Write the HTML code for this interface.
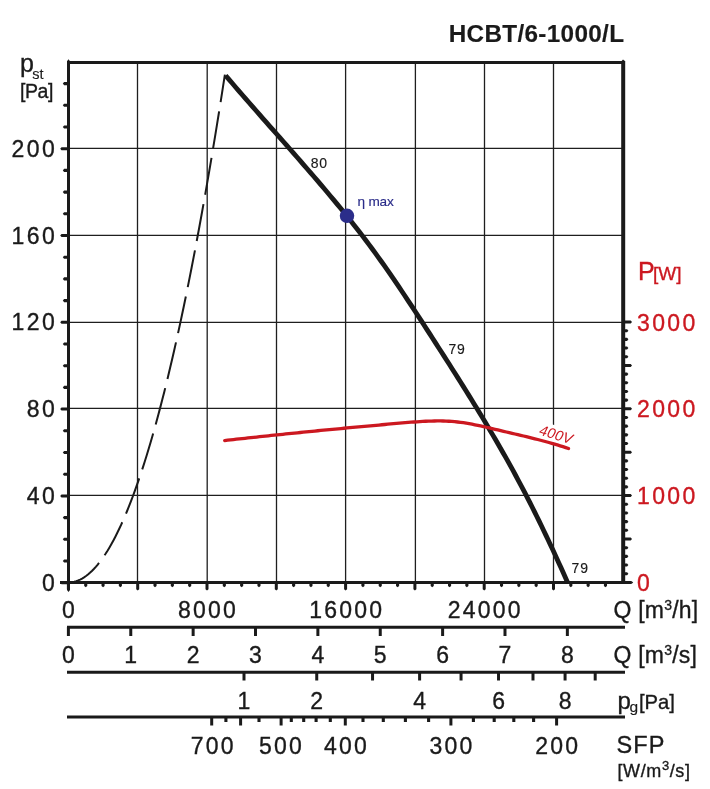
<!DOCTYPE html>
<html><head><meta charset="utf-8"><style>
html,body{margin:0;padding:0;background:#fff;}
body{width:710px;height:789px;overflow:hidden;position:relative;}
svg{position:absolute;left:0;top:0;will-change:transform;}
text{font-family:"Liberation Sans",sans-serif;}
</style></head><body>
<svg width="710" height="789" viewBox="0 0 710 789">
<rect width="710" height="789" fill="#fff"/>
<line x1="137.5" y1="62" x2="137.5" y2="582" stroke="#1e1e1e" stroke-width="1.3"/>
<line x1="207.2" y1="62" x2="207.2" y2="582" stroke="#1e1e1e" stroke-width="1.3"/>
<line x1="276.5" y1="62" x2="276.5" y2="582" stroke="#1e1e1e" stroke-width="1.3"/>
<line x1="345.6" y1="62" x2="345.6" y2="582" stroke="#1e1e1e" stroke-width="1.3"/>
<line x1="415.4" y1="62" x2="415.4" y2="582" stroke="#1e1e1e" stroke-width="1.3"/>
<line x1="484.5" y1="62" x2="484.5" y2="582" stroke="#1e1e1e" stroke-width="1.3"/>
<line x1="553.5" y1="62" x2="553.5" y2="582" stroke="#1e1e1e" stroke-width="1.3"/>
<line x1="68" y1="495.4" x2="623" y2="495.4" stroke="#1e1e1e" stroke-width="1.3"/>
<line x1="68" y1="408.4" x2="623" y2="408.4" stroke="#1e1e1e" stroke-width="1.3"/>
<line x1="68" y1="322.4" x2="623" y2="322.4" stroke="#1e1e1e" stroke-width="1.3"/>
<line x1="68" y1="235.3" x2="623" y2="235.3" stroke="#1e1e1e" stroke-width="1.3"/>
<line x1="68" y1="148.4" x2="623" y2="148.4" stroke="#1e1e1e" stroke-width="1.3"/>
<polygon points="69.00,581.20 61.50,581.20 60.20,582.70 61.50,584.20 69.00,584.20" fill="#1a1a1a"/>
<polygon points="69.00,559.45 64.10,559.45 62.80,561.00 64.10,562.55 69.00,562.55" fill="#1a1a1a"/>
<polygon points="69.00,537.75 64.10,537.75 62.80,539.30 64.10,540.85 69.00,540.85" fill="#1a1a1a"/>
<polygon points="69.00,516.05 64.10,516.05 62.80,517.60 64.10,519.15 69.00,519.15" fill="#1a1a1a"/>
<polygon points="69.00,494.40 61.50,494.40 60.20,495.90 61.50,497.40 69.00,497.40" fill="#1a1a1a"/>
<polygon points="69.00,472.65 64.10,472.65 62.80,474.20 64.10,475.75 69.00,475.75" fill="#1a1a1a"/>
<polygon points="69.00,450.95 64.10,450.95 62.80,452.50 64.10,454.05 69.00,454.05" fill="#1a1a1a"/>
<polygon points="69.00,429.25 64.10,429.25 62.80,430.80 64.10,432.35 69.00,432.35" fill="#1a1a1a"/>
<polygon points="69.00,407.60 61.50,407.60 60.20,409.10 61.50,410.60 69.00,410.60" fill="#1a1a1a"/>
<polygon points="69.00,385.85 64.10,385.85 62.80,387.40 64.10,388.95 69.00,388.95" fill="#1a1a1a"/>
<polygon points="69.00,364.15 64.10,364.15 62.80,365.70 64.10,367.25 69.00,367.25" fill="#1a1a1a"/>
<polygon points="69.00,342.45 64.10,342.45 62.80,344.00 64.10,345.55 69.00,345.55" fill="#1a1a1a"/>
<polygon points="69.00,320.80 61.50,320.80 60.20,322.30 61.50,323.80 69.00,323.80" fill="#1a1a1a"/>
<polygon points="69.00,299.05 64.10,299.05 62.80,300.60 64.10,302.15 69.00,302.15" fill="#1a1a1a"/>
<polygon points="69.00,277.35 64.10,277.35 62.80,278.90 64.10,280.45 69.00,280.45" fill="#1a1a1a"/>
<polygon points="69.00,255.65 64.10,255.65 62.80,257.20 64.10,258.75 69.00,258.75" fill="#1a1a1a"/>
<polygon points="69.00,234.00 61.50,234.00 60.20,235.50 61.50,237.00 69.00,237.00" fill="#1a1a1a"/>
<polygon points="69.00,212.25 64.10,212.25 62.80,213.80 64.10,215.35 69.00,215.35" fill="#1a1a1a"/>
<polygon points="69.00,190.55 64.10,190.55 62.80,192.10 64.10,193.65 69.00,193.65" fill="#1a1a1a"/>
<polygon points="69.00,168.85 64.10,168.85 62.80,170.40 64.10,171.95 69.00,171.95" fill="#1a1a1a"/>
<polygon points="69.00,147.20 61.50,147.20 60.20,148.70 61.50,150.20 69.00,150.20" fill="#1a1a1a"/>
<polygon points="69.00,125.45 64.10,125.45 62.80,127.00 64.10,128.55 69.00,128.55" fill="#1a1a1a"/>
<polygon points="69.00,103.75 64.10,103.75 62.80,105.30 64.10,106.85 69.00,106.85" fill="#1a1a1a"/>
<polygon points="69.00,82.05 64.10,82.05 62.80,83.60 64.10,85.15 69.00,85.15" fill="#1a1a1a"/>
<polygon points="624.00,580.90 630.70,580.90 632.00,582.40 630.70,583.90 624.00,583.90" fill="#1a1a1a"/>
<polygon points="624.00,572.17 627.10,572.17 628.40,573.72 627.10,575.27 624.00,575.27" fill="#1a1a1a"/>
<polygon points="624.00,563.49 627.10,563.49 628.40,565.04 627.10,566.59 624.00,566.59" fill="#1a1a1a"/>
<polygon points="624.00,554.81 627.10,554.81 628.40,556.36 627.10,557.91 624.00,557.91" fill="#1a1a1a"/>
<polygon points="624.00,546.13 627.10,546.13 628.40,547.68 627.10,549.23 624.00,549.23" fill="#1a1a1a"/>
<polygon points="624.00,537.50 630.70,537.50 632.00,539.00 630.70,540.50 624.00,540.50" fill="#1a1a1a"/>
<polygon points="624.00,528.77 627.10,528.77 628.40,530.32 627.10,531.87 624.00,531.87" fill="#1a1a1a"/>
<polygon points="624.00,520.09 627.10,520.09 628.40,521.64 627.10,523.19 624.00,523.19" fill="#1a1a1a"/>
<polygon points="624.00,511.41 627.10,511.41 628.40,512.96 627.10,514.51 624.00,514.51" fill="#1a1a1a"/>
<polygon points="624.00,502.73 627.10,502.73 628.40,504.28 627.10,505.83 624.00,505.83" fill="#1a1a1a"/>
<polygon points="624.00,494.10 630.70,494.10 632.00,495.60 630.70,497.10 624.00,497.10" fill="#1a1a1a"/>
<polygon points="624.00,485.37 627.10,485.37 628.40,486.92 627.10,488.47 624.00,488.47" fill="#1a1a1a"/>
<polygon points="624.00,476.69 627.10,476.69 628.40,478.24 627.10,479.79 624.00,479.79" fill="#1a1a1a"/>
<polygon points="624.00,468.01 627.10,468.01 628.40,469.56 627.10,471.11 624.00,471.11" fill="#1a1a1a"/>
<polygon points="624.00,459.33 627.10,459.33 628.40,460.88 627.10,462.43 624.00,462.43" fill="#1a1a1a"/>
<polygon points="624.00,450.70 630.70,450.70 632.00,452.20 630.70,453.70 624.00,453.70" fill="#1a1a1a"/>
<polygon points="624.00,441.97 627.10,441.97 628.40,443.52 627.10,445.07 624.00,445.07" fill="#1a1a1a"/>
<polygon points="624.00,433.29 627.10,433.29 628.40,434.84 627.10,436.39 624.00,436.39" fill="#1a1a1a"/>
<polygon points="624.00,424.61 627.10,424.61 628.40,426.16 627.10,427.71 624.00,427.71" fill="#1a1a1a"/>
<polygon points="624.00,415.93 627.10,415.93 628.40,417.48 627.10,419.03 624.00,419.03" fill="#1a1a1a"/>
<polygon points="624.00,407.30 630.70,407.30 632.00,408.80 630.70,410.30 624.00,410.30" fill="#1a1a1a"/>
<polygon points="624.00,398.57 627.10,398.57 628.40,400.12 627.10,401.67 624.00,401.67" fill="#1a1a1a"/>
<polygon points="624.00,389.89 627.10,389.89 628.40,391.44 627.10,392.99 624.00,392.99" fill="#1a1a1a"/>
<polygon points="624.00,381.21 627.10,381.21 628.40,382.76 627.10,384.31 624.00,384.31" fill="#1a1a1a"/>
<polygon points="624.00,372.53 627.10,372.53 628.40,374.08 627.10,375.63 624.00,375.63" fill="#1a1a1a"/>
<polygon points="624.00,363.90 630.70,363.90 632.00,365.40 630.70,366.90 624.00,366.90" fill="#1a1a1a"/>
<polygon points="624.00,355.17 627.10,355.17 628.40,356.72 627.10,358.27 624.00,358.27" fill="#1a1a1a"/>
<polygon points="624.00,346.49 627.10,346.49 628.40,348.04 627.10,349.59 624.00,349.59" fill="#1a1a1a"/>
<polygon points="624.00,337.81 627.10,337.81 628.40,339.36 627.10,340.91 624.00,340.91" fill="#1a1a1a"/>
<polygon points="624.00,329.13 627.10,329.13 628.40,330.68 627.10,332.23 624.00,332.23" fill="#1a1a1a"/>
<polygon points="624.00,320.50 630.70,320.50 632.00,322.00 630.70,323.50 624.00,323.50" fill="#1a1a1a"/>
<polygon points="66.90,582.00 66.90,589.20 68.40,590.50 69.90,589.20 69.90,582.00" fill="#1a1a1a"/>
<polygon points="84.18,582.00 84.18,585.90 85.73,587.20 87.28,585.90 87.28,582.00" fill="#1a1a1a"/>
<polygon points="101.50,582.00 101.50,585.90 103.05,587.20 104.60,585.90 104.60,582.00" fill="#1a1a1a"/>
<polygon points="118.83,582.00 118.83,585.90 120.38,587.20 121.92,585.90 121.92,582.00" fill="#1a1a1a"/>
<polygon points="136.20,582.00 136.20,589.20 137.70,590.50 139.20,589.20 139.20,582.00" fill="#1a1a1a"/>
<polygon points="153.47,582.00 153.47,585.90 155.03,587.20 156.58,585.90 156.58,582.00" fill="#1a1a1a"/>
<polygon points="170.80,582.00 170.80,585.90 172.35,587.20 173.90,585.90 173.90,582.00" fill="#1a1a1a"/>
<polygon points="188.12,582.00 188.12,585.90 189.68,587.20 191.23,585.90 191.23,582.00" fill="#1a1a1a"/>
<polygon points="205.50,582.00 205.50,589.20 207.00,590.50 208.50,589.20 208.50,582.00" fill="#1a1a1a"/>
<polygon points="222.77,582.00 222.77,585.90 224.32,587.20 225.88,585.90 225.88,582.00" fill="#1a1a1a"/>
<polygon points="240.10,582.00 240.10,585.90 241.65,587.20 243.20,585.90 243.20,582.00" fill="#1a1a1a"/>
<polygon points="257.43,582.00 257.43,585.90 258.98,587.20 260.53,585.90 260.53,582.00" fill="#1a1a1a"/>
<polygon points="274.80,582.00 274.80,589.20 276.30,590.50 277.80,589.20 277.80,582.00" fill="#1a1a1a"/>
<polygon points="292.07,582.00 292.07,585.90 293.62,587.20 295.18,585.90 295.18,582.00" fill="#1a1a1a"/>
<polygon points="309.40,582.00 309.40,585.90 310.95,587.20 312.50,585.90 312.50,582.00" fill="#1a1a1a"/>
<polygon points="326.72,582.00 326.72,585.90 328.27,587.20 329.82,585.90 329.82,582.00" fill="#1a1a1a"/>
<polygon points="344.10,582.00 344.10,589.20 345.60,590.50 347.10,589.20 347.10,582.00" fill="#1a1a1a"/>
<polygon points="361.37,582.00 361.37,585.90 362.92,587.20 364.47,585.90 364.47,582.00" fill="#1a1a1a"/>
<polygon points="378.70,582.00 378.70,585.90 380.25,587.20 381.80,585.90 381.80,582.00" fill="#1a1a1a"/>
<polygon points="396.03,582.00 396.03,585.90 397.58,587.20 399.13,585.90 399.13,582.00" fill="#1a1a1a"/>
<polygon points="413.40,582.00 413.40,589.20 414.90,590.50 416.40,589.20 416.40,582.00" fill="#1a1a1a"/>
<polygon points="430.68,582.00 430.68,585.90 432.23,587.20 433.78,585.90 433.78,582.00" fill="#1a1a1a"/>
<polygon points="448.00,582.00 448.00,585.90 449.55,587.20 451.10,585.90 451.10,582.00" fill="#1a1a1a"/>
<polygon points="465.32,582.00 465.32,585.90 466.88,587.20 468.43,585.90 468.43,582.00" fill="#1a1a1a"/>
<polygon points="482.70,582.00 482.70,589.20 484.20,590.50 485.70,589.20 485.70,582.00" fill="#1a1a1a"/>
<polygon points="499.97,582.00 499.97,585.90 501.52,587.20 503.07,585.90 503.07,582.00" fill="#1a1a1a"/>
<polygon points="517.30,582.00 517.30,585.90 518.85,587.20 520.40,585.90 520.40,582.00" fill="#1a1a1a"/>
<polygon points="534.62,582.00 534.62,585.90 536.17,587.20 537.72,585.90 537.72,582.00" fill="#1a1a1a"/>
<polygon points="552.00,582.00 552.00,589.20 553.50,590.50 555.00,589.20 555.00,582.00" fill="#1a1a1a"/>
<polygon points="569.27,582.00 569.27,585.90 570.82,587.20 572.37,585.90 572.37,582.00" fill="#1a1a1a"/>
<polygon points="586.60,582.00 586.60,585.90 588.15,587.20 589.70,585.90 589.70,582.00" fill="#1a1a1a"/>
<polygon points="603.92,582.00 603.92,585.90 605.47,587.20 607.02,585.90 607.02,582.00" fill="#1a1a1a"/>
<line x1="67" y1="62.5" x2="625" y2="62.5" stroke="#1a1a1a" stroke-width="3"/>
<line x1="68.5" y1="61" x2="68.5" y2="590" stroke="#1a1a1a" stroke-width="3"/>
<line x1="623.2" y1="61" x2="623.2" y2="584" stroke="#1a1a1a" stroke-width="4"/>
<line x1="60" y1="582.4" x2="631.5" y2="582.4" stroke="#1a1a1a" stroke-width="3"/>
<polygon points="631.4,580.9 633.2,582.4 631.4,583.9" fill="#1a1a1a"/>
<polygon points="67,590 68.5,592 70,590" fill="#1a1a1a"/>
<polygon points="67,61.2 68.5,59.2 70,61.2" fill="#1a1a1a"/>
<polygon points="621.4,61.2 623,59.6 625.2,61.2" fill="#1a1a1a"/>
<g transform="translate(537.8,434.3) rotate(16.5)"><rect x="-1" y="-13.5" width="38" height="17" fill="#fff"/></g>
<path d="M68.40,582.40 L70.36,582.32 L72.31,582.08 L74.27,581.69 L76.23,581.13 L78.18,580.42 L80.14,579.54 L82.09,578.51 L84.05,577.32 L86.01,575.97 L87.96,574.47 L89.92,572.80 L91.88,570.97 L93.83,568.99 L95.79,566.85 L97.74,564.55 L99.70,562.09 L101.66,559.47 L103.61,556.69 L105.57,553.76 L107.53,550.66 L109.48,547.41 L111.44,544.00 L113.39,540.43 L115.35,536.70 L117.31,532.81 L119.26,528.76 L121.22,524.56 L123.18,520.19 L125.13,515.67 L127.09,510.99 L129.04,506.15 L131.00,501.15 L132.96,495.99 L134.91,490.68 L136.87,485.20 L138.82,479.57 L140.78,473.78 L142.74,467.83 L144.69,461.72 L146.65,455.45 L148.61,449.02 L150.56,442.44 L152.52,435.69 L154.48,428.79 L156.43,421.73 L158.39,414.51 L160.34,407.13 L162.30,399.59 L164.26,391.90 L166.21,384.04 L168.17,376.03 L170.12,367.85 L172.08,359.52 L174.04,351.03 L175.99,342.39 L177.95,333.58 L179.91,324.61 L181.86,315.49 L183.82,306.20 L185.78,296.76 L187.73,287.16 L189.69,277.40 L191.64,267.48 L193.60,257.41 L195.56,247.17 L197.51,236.78 L199.47,226.23 L201.43,215.51 L203.38,204.64 L205.34,193.62 L207.29,182.43 L209.25,171.08 L211.21,159.58 L213.16,147.91 L215.12,136.09 L217.07,124.11 L219.03,111.97 L220.99,99.67 L222.94,87.22 L224.90,74.60" fill="none" stroke="#1a1a1a" stroke-width="2" stroke-dasharray="37.5 9.5"/>
<path d="M225.59,75.43 L228.93,79.36 L232.28,83.27 L235.64,87.19 L239.01,91.09 L242.38,94.99 L245.77,98.88 L249.16,102.77 L252.55,106.66 L255.96,110.54 L259.36,114.42 L262.77,118.29 L266.18,122.17 L269.60,126.04 L273.01,129.91 L276.43,133.78 L279.85,137.66 L283.26,141.53 L286.68,145.40 L290.09,149.28 L293.50,153.16 L296.91,157.04 L300.31,160.92 L303.71,164.81 L307.10,168.71 L310.48,172.61 L313.85,176.52 L317.22,180.43 L320.57,184.35 L323.91,188.29 L327.25,192.23 L330.56,196.18 L333.87,200.14 L337.16,204.11 L340.43,208.09 L343.69,212.09 L346.93,216.10 L350.15,220.12 L353.36,224.16 L356.54,228.21 L359.70,232.28 L362.84,236.37 L365.96,240.47 L369.05,244.59 L372.12,248.73 L375.16,252.89 L378.18,257.06 L381.18,261.26 L384.16,265.46 L387.12,269.68 L390.07,273.92 L392.99,278.16 L395.90,282.42 L398.79,286.70 L401.67,290.98 L404.54,295.27 L407.39,299.57 L410.23,303.87 L413.07,308.19 L415.89,312.51 L418.71,316.83 L421.53,321.16 L424.33,325.50 L427.14,329.83 L429.94,334.17 L432.73,338.51 L435.53,342.85 L438.32,347.19 L441.11,351.53 L443.90,355.88 L446.68,360.23 L449.46,364.58 L452.23,368.93 L454.99,373.29 L457.75,377.65 L460.50,382.02 L463.24,386.39 L465.98,390.76 L468.70,395.14 L471.42,399.52 L474.12,403.92 L476.82,408.31 L479.50,412.72 L482.17,417.13 L484.83,421.55 L487.48,425.97 L490.11,430.40 L492.73,434.85 L495.33,439.30 L497.92,443.76 L500.49,448.22 L503.05,452.70 L505.59,457.19 L508.11,461.69 L510.61,466.19 L513.10,470.71 L515.56,475.24 L518.01,479.79 L520.43,484.34 L522.84,488.90 L525.22,493.48 L527.59,498.07 L529.93,502.66 L532.26,507.27 L534.57,511.89 L536.86,516.51 L539.14,521.15 L541.40,525.79 L543.64,530.44 L545.87,535.09 L548.08,539.76 L550.28,544.43 L552.46,549.10 L554.63,553.78 L556.79,558.47 L558.93,563.16 L561.06,567.86 L563.18,572.56 L565.28,577.26 L567.38,581.96" fill="none" stroke="#1a1a1a" stroke-width="4.8"/>
<path d="M224.69,440.53 L227.60,440.20 L230.51,439.88 L233.42,439.55 L236.33,439.23 L239.23,438.91 L242.14,438.59 L245.05,438.28 L247.96,437.96 L250.87,437.65 L253.77,437.33 L256.68,437.02 L259.59,436.71 L262.50,436.40 L265.41,436.09 L268.32,435.79 L271.22,435.48 L274.13,435.18 L277.04,434.87 L279.95,434.57 L282.86,434.27 L285.77,433.97 L288.68,433.67 L291.59,433.38 L294.50,433.08 L297.41,432.79 L300.32,432.50 L303.23,432.20 L306.14,431.91 L309.05,431.62 L311.96,431.34 L314.87,431.05 L317.78,430.76 L320.69,430.48 L323.60,430.19 L326.52,429.91 L329.43,429.63 L332.34,429.35 L335.25,429.07 L338.16,428.79 L341.08,428.52 L343.99,428.24 L346.90,427.97 L349.82,427.69 L352.73,427.42 L355.64,427.15 L358.56,426.88 L361.47,426.61 L364.39,426.34 L367.30,426.07 L370.22,425.81 L373.13,425.54 L376.05,425.28 L378.96,425.02 L381.88,424.75 L384.80,424.49 L387.72,424.23 L390.63,423.97 L393.55,423.72 L396.47,423.46 L399.39,423.20 L402.31,422.95 L405.22,422.69 L408.14,422.45 L411.06,422.21 L413.98,421.99 L416.90,421.78 L419.82,421.58 L422.73,421.41 L425.65,421.26 L428.56,421.14 L431.48,421.05 L434.39,420.99 L437.30,420.96 L440.20,420.97 L443.11,421.02 L446.01,421.12 L448.92,421.26 L451.81,421.45 L454.71,421.69 L457.60,421.99 L460.49,422.34 L463.38,422.74 L466.26,423.19 L469.14,423.67 L472.02,424.20 L474.90,424.76 L477.77,425.35 L480.64,425.96 L483.51,426.60 L486.38,427.25 L489.25,427.92 L492.11,428.60 L494.97,429.28 L497.84,429.96 L500.70,430.64 L503.55,431.32 L506.41,431.99 L509.27,432.66 L512.12,433.33 L514.97,434.00 L517.82,434.66 L520.66,435.34 L523.51,436.01 L526.35,436.69 L529.19,437.38 L532.02,438.08 L534.85,438.79 L537.68,439.50 L540.51,440.23 L543.33,440.98 L546.15,441.73 L548.96,442.51 L551.77,443.30 L554.57,444.11 L557.37,444.95 L560.16,445.80 L562.95,446.68 L565.74,447.58 L568.52,448.51" fill="none" stroke="#cc1820" stroke-width="3.3" stroke-linecap="round" stroke-linejoin="round"/>
<circle cx="347.0" cy="215.8" r="7.25" fill="#2b2d8a"/>
<text x="624.30" y="41.60" font-size="24.3" text-anchor="end" fill="#1a1a1a" stroke="#1a1a1a" stroke-width="0.15" letter-spacing="0.32" font-weight="bold" >HCBT/6-1000/L</text>
<text x="20.00" y="72.00" font-size="25" text-anchor="start" fill="#1a1a1a" stroke="#1a1a1a" stroke-width="0.35" letter-spacing="0" font-weight="normal" >p</text>
<text x="32.30" y="79.40" font-size="14.5" text-anchor="start" fill="#1a1a1a" stroke="#1a1a1a" stroke-width="0.15" letter-spacing="0" font-weight="normal" >st</text>
<text x="20.00" y="97.80" font-size="19.5" text-anchor="start" fill="#1a1a1a" stroke="#1a1a1a" stroke-width="0.35" letter-spacing="-0.4" font-weight="normal" >[Pa]</text>
<text x="57.30" y="590.80" font-size="23" text-anchor="end" fill="#1a1a1a" stroke="#1a1a1a" stroke-width="0.35" letter-spacing="2.5" font-weight="normal" >0</text>
<text x="57.30" y="504.00" font-size="23" text-anchor="end" fill="#1a1a1a" stroke="#1a1a1a" stroke-width="0.35" letter-spacing="2.5" font-weight="normal" >40</text>
<text x="57.30" y="417.20" font-size="23" text-anchor="end" fill="#1a1a1a" stroke="#1a1a1a" stroke-width="0.35" letter-spacing="2.5" font-weight="normal" >80</text>
<text x="57.30" y="330.40" font-size="23" text-anchor="end" fill="#1a1a1a" stroke="#1a1a1a" stroke-width="0.35" letter-spacing="2.5" font-weight="normal" >120</text>
<text x="57.30" y="243.60" font-size="23" text-anchor="end" fill="#1a1a1a" stroke="#1a1a1a" stroke-width="0.35" letter-spacing="2.5" font-weight="normal" >160</text>
<text x="57.30" y="156.80" font-size="23" text-anchor="end" fill="#1a1a1a" stroke="#1a1a1a" stroke-width="0.35" letter-spacing="2.5" font-weight="normal" >200</text>
<text x="637.00" y="590.70" font-size="23" text-anchor="start" fill="#cc1820" stroke="#cc1820" stroke-width="0.35" letter-spacing="2.35" font-weight="normal" >0</text>
<text x="637.00" y="503.90" font-size="23" text-anchor="start" fill="#cc1820" stroke="#cc1820" stroke-width="0.35" letter-spacing="2.35" font-weight="normal" >1000</text>
<text x="637.00" y="417.10" font-size="23" text-anchor="start" fill="#cc1820" stroke="#cc1820" stroke-width="0.35" letter-spacing="2.35" font-weight="normal" >2000</text>
<text x="637.00" y="331.10" font-size="23" text-anchor="start" fill="#cc1820" stroke="#cc1820" stroke-width="0.35" letter-spacing="2.35" font-weight="normal" >3000</text>
<text x="638.00" y="279.60" font-size="25" text-anchor="start" fill="#cc1820" stroke="#cc1820" stroke-width="0.35" letter-spacing="0" font-weight="normal" >P</text>
<text x="653.00" y="279.60" font-size="19" text-anchor="start" fill="#cc1820" stroke="#cc1820" stroke-width="0.35" letter-spacing="0" font-weight="normal" >[W]</text>
<text x="69.50" y="617.60" font-size="23" text-anchor="middle" fill="#1a1a1a" stroke="#1a1a1a" stroke-width="0.35" letter-spacing="2.2" font-weight="normal" >0</text>
<text x="208.10" y="617.60" font-size="23" text-anchor="middle" fill="#1a1a1a" stroke="#1a1a1a" stroke-width="0.35" letter-spacing="2.2" font-weight="normal" >8000</text>
<text x="346.70" y="617.60" font-size="23" text-anchor="middle" fill="#1a1a1a" stroke="#1a1a1a" stroke-width="0.35" letter-spacing="2.2" font-weight="normal" >16000</text>
<text x="485.30" y="617.60" font-size="23" text-anchor="middle" fill="#1a1a1a" stroke="#1a1a1a" stroke-width="0.35" letter-spacing="2.2" font-weight="normal" >24000</text>
<text x="613.50" y="617.80" font-size="23" text-anchor="start" fill="#1a1a1a" stroke="#1a1a1a" stroke-width="0.35" letter-spacing="0.2" font-weight="normal" >Q [m<tspan font-size="14" dy="-8">3</tspan><tspan dy="8">/h]</tspan></text>
<line x1="67" y1="627.3" x2="625" y2="627.3" stroke="#1a1a1a" stroke-width="3"/>
<line x1="68.40" y1="627" x2="68.40" y2="636" stroke="#1a1a1a" stroke-width="3"/>
<text x="69.50" y="662.60" font-size="23" text-anchor="middle" fill="#1a1a1a" stroke="#1a1a1a" stroke-width="0.35" letter-spacing="2.2" font-weight="normal" >0</text>
<line x1="130.77" y1="627" x2="130.77" y2="636" stroke="#1a1a1a" stroke-width="3"/>
<text x="131.87" y="662.60" font-size="23" text-anchor="middle" fill="#1a1a1a" stroke="#1a1a1a" stroke-width="0.35" letter-spacing="2.2" font-weight="normal" >1</text>
<line x1="193.14" y1="627" x2="193.14" y2="636" stroke="#1a1a1a" stroke-width="3"/>
<text x="194.24" y="662.60" font-size="23" text-anchor="middle" fill="#1a1a1a" stroke="#1a1a1a" stroke-width="0.35" letter-spacing="2.2" font-weight="normal" >2</text>
<line x1="255.51" y1="627" x2="255.51" y2="636" stroke="#1a1a1a" stroke-width="3"/>
<text x="256.61" y="662.60" font-size="23" text-anchor="middle" fill="#1a1a1a" stroke="#1a1a1a" stroke-width="0.35" letter-spacing="2.2" font-weight="normal" >3</text>
<line x1="317.88" y1="627" x2="317.88" y2="636" stroke="#1a1a1a" stroke-width="3"/>
<text x="318.98" y="662.60" font-size="23" text-anchor="middle" fill="#1a1a1a" stroke="#1a1a1a" stroke-width="0.35" letter-spacing="2.2" font-weight="normal" >4</text>
<line x1="380.25" y1="627" x2="380.25" y2="636" stroke="#1a1a1a" stroke-width="3"/>
<text x="381.35" y="662.60" font-size="23" text-anchor="middle" fill="#1a1a1a" stroke="#1a1a1a" stroke-width="0.35" letter-spacing="2.2" font-weight="normal" >5</text>
<line x1="442.62" y1="627" x2="442.62" y2="636" stroke="#1a1a1a" stroke-width="3"/>
<text x="443.72" y="662.60" font-size="23" text-anchor="middle" fill="#1a1a1a" stroke="#1a1a1a" stroke-width="0.35" letter-spacing="2.2" font-weight="normal" >6</text>
<line x1="504.99" y1="627" x2="504.99" y2="636" stroke="#1a1a1a" stroke-width="3"/>
<text x="506.09" y="662.60" font-size="23" text-anchor="middle" fill="#1a1a1a" stroke="#1a1a1a" stroke-width="0.35" letter-spacing="2.2" font-weight="normal" >7</text>
<line x1="567.36" y1="627" x2="567.36" y2="636" stroke="#1a1a1a" stroke-width="3"/>
<text x="568.46" y="662.60" font-size="23" text-anchor="middle" fill="#1a1a1a" stroke="#1a1a1a" stroke-width="0.35" letter-spacing="2.2" font-weight="normal" >8</text>
<text x="613.50" y="662.60" font-size="23" text-anchor="start" fill="#1a1a1a" stroke="#1a1a1a" stroke-width="0.35" letter-spacing="0.2" font-weight="normal" >Q [m<tspan font-size="14" dy="-8">3</tspan><tspan dy="8">/s]</tspan></text>
<line x1="67" y1="672.2" x2="625" y2="672.2" stroke="#1a1a1a" stroke-width="3"/>
<line x1="244.00" y1="672" x2="244.00" y2="680.5" stroke="#1a1a1a" stroke-width="3"/>
<text x="245.10" y="708.50" font-size="23" text-anchor="middle" fill="#1a1a1a" stroke="#1a1a1a" stroke-width="0.35" letter-spacing="2.2" font-weight="normal" >1</text>
<line x1="316.74" y1="672" x2="316.74" y2="680.5" stroke="#1a1a1a" stroke-width="3"/>
<text x="317.84" y="708.50" font-size="23" text-anchor="middle" fill="#1a1a1a" stroke="#1a1a1a" stroke-width="0.35" letter-spacing="2.2" font-weight="normal" >2</text>
<line x1="372.55" y1="672" x2="372.55" y2="680.5" stroke="#1a1a1a" stroke-width="3"/>
<line x1="419.60" y1="672" x2="419.60" y2="680.5" stroke="#1a1a1a" stroke-width="3"/>
<text x="420.70" y="708.50" font-size="23" text-anchor="middle" fill="#1a1a1a" stroke="#1a1a1a" stroke-width="0.35" letter-spacing="2.2" font-weight="normal" >4</text>
<line x1="461.05" y1="672" x2="461.05" y2="680.5" stroke="#1a1a1a" stroke-width="3"/>
<line x1="498.53" y1="672" x2="498.53" y2="680.5" stroke="#1a1a1a" stroke-width="3"/>
<text x="499.63" y="708.50" font-size="23" text-anchor="middle" fill="#1a1a1a" stroke="#1a1a1a" stroke-width="0.35" letter-spacing="2.2" font-weight="normal" >6</text>
<line x1="532.99" y1="672" x2="532.99" y2="680.5" stroke="#1a1a1a" stroke-width="3"/>
<line x1="565.07" y1="672" x2="565.07" y2="680.5" stroke="#1a1a1a" stroke-width="3"/>
<text x="566.17" y="708.50" font-size="23" text-anchor="middle" fill="#1a1a1a" stroke="#1a1a1a" stroke-width="0.35" letter-spacing="2.2" font-weight="normal" >8</text>
<line x1="595.20" y1="672" x2="595.20" y2="680.5" stroke="#1a1a1a" stroke-width="3"/>
<text x="617.50" y="709.40" font-size="24" text-anchor="start" fill="#1a1a1a" stroke="#1a1a1a" stroke-width="0.35" letter-spacing="0" font-weight="normal" >p</text>
<text x="629.50" y="712.20" font-size="15.5" text-anchor="start" fill="#1a1a1a" stroke="#1a1a1a" stroke-width="0.15" letter-spacing="0" font-weight="normal" >g</text>
<text x="639.00" y="709.40" font-size="20.2" text-anchor="start" fill="#1a1a1a" stroke="#1a1a1a" stroke-width="0.35" letter-spacing="0" font-weight="normal" >[Pa]</text>
<line x1="67" y1="717" x2="625" y2="717" stroke="#1a1a1a" stroke-width="3"/>
<line x1="211.70" y1="717" x2="211.70" y2="725.5" stroke="#1a1a1a" stroke-width="3"/>
<line x1="240.60" y1="717" x2="240.60" y2="725.5" stroke="#1a1a1a" stroke-width="3"/>
<line x1="281.10" y1="717" x2="281.10" y2="725.5" stroke="#1a1a1a" stroke-width="3"/>
<line x1="345.30" y1="717" x2="345.30" y2="725.5" stroke="#1a1a1a" stroke-width="3"/>
<line x1="450.90" y1="717" x2="450.90" y2="725.5" stroke="#1a1a1a" stroke-width="3"/>
<line x1="556.60" y1="717" x2="556.60" y2="725.5" stroke="#1a1a1a" stroke-width="3"/>
<line x1="225.90" y1="717" x2="225.90" y2="722" stroke="#1a1a1a" stroke-width="3.1"/>
<line x1="259.00" y1="717" x2="259.00" y2="722" stroke="#1a1a1a" stroke-width="3.1"/>
<line x1="291.30" y1="717" x2="291.30" y2="722" stroke="#1a1a1a" stroke-width="3.1"/>
<line x1="303.70" y1="717" x2="303.70" y2="722" stroke="#1a1a1a" stroke-width="3.1"/>
<line x1="316.10" y1="717" x2="316.10" y2="722" stroke="#1a1a1a" stroke-width="3.1"/>
<line x1="330.30" y1="717" x2="330.30" y2="722" stroke="#1a1a1a" stroke-width="3.1"/>
<line x1="363.00" y1="717" x2="363.00" y2="722" stroke="#1a1a1a" stroke-width="3.1"/>
<line x1="383.30" y1="717" x2="383.30" y2="722" stroke="#1a1a1a" stroke-width="3.1"/>
<line x1="405.40" y1="717" x2="405.40" y2="722" stroke="#1a1a1a" stroke-width="3.1"/>
<line x1="428.60" y1="717" x2="428.60" y2="722" stroke="#1a1a1a" stroke-width="3.1"/>
<line x1="473.40" y1="717" x2="473.40" y2="722" stroke="#1a1a1a" stroke-width="3.1"/>
<line x1="494.20" y1="717" x2="494.20" y2="722" stroke="#1a1a1a" stroke-width="3.1"/>
<line x1="513.80" y1="717" x2="513.80" y2="722" stroke="#1a1a1a" stroke-width="3.1"/>
<line x1="533.60" y1="717" x2="533.60" y2="722" stroke="#1a1a1a" stroke-width="3.1"/>
<text x="213.30" y="753.70" font-size="23" text-anchor="middle" fill="#1a1a1a" stroke="#1a1a1a" stroke-width="0.35" letter-spacing="2.2" font-weight="normal" >700</text>
<text x="281.60" y="753.70" font-size="23" text-anchor="middle" fill="#1a1a1a" stroke="#1a1a1a" stroke-width="0.35" letter-spacing="2.2" font-weight="normal" >500</text>
<text x="346.60" y="753.70" font-size="23" text-anchor="middle" fill="#1a1a1a" stroke="#1a1a1a" stroke-width="0.35" letter-spacing="2.2" font-weight="normal" >400</text>
<text x="452.10" y="753.70" font-size="23" text-anchor="middle" fill="#1a1a1a" stroke="#1a1a1a" stroke-width="0.35" letter-spacing="2.2" font-weight="normal" >300</text>
<text x="557.70" y="753.70" font-size="23" text-anchor="middle" fill="#1a1a1a" stroke="#1a1a1a" stroke-width="0.35" letter-spacing="2.2" font-weight="normal" >200</text>
<text x="616.50" y="753.20" font-size="23.5" text-anchor="start" fill="#1a1a1a" stroke="#1a1a1a" stroke-width="0.35" letter-spacing="1.1" font-weight="normal" >SFP</text>
<text x="617.50" y="777.40" font-size="18" text-anchor="start" fill="#1a1a1a" stroke="#1a1a1a" stroke-width="0.35" letter-spacing="0.6" font-weight="normal" >[W/m<tspan font-size="13" dy="-7">3</tspan><tspan dy="7">/s]</tspan></text>
<text x="319.30" y="167.80" font-size="14" text-anchor="middle" fill="#1a1a1a" stroke="#1a1a1a" stroke-width="0.15" letter-spacing="0.8" font-weight="normal" >80</text>
<text x="457.00" y="354.40" font-size="14" text-anchor="middle" fill="#1a1a1a" stroke="#1a1a1a" stroke-width="0.15" letter-spacing="0.8" font-weight="normal" >79</text>
<text x="580.20" y="573.00" font-size="14" text-anchor="middle" fill="#1a1a1a" stroke="#1a1a1a" stroke-width="0.15" letter-spacing="0.8" font-weight="normal" >79</text>
<text x="357.50" y="206.00" font-size="13.6" text-anchor="start" fill="#2b2d8a" stroke="#2b2d8a" stroke-width="0.15" letter-spacing="-0.2" font-weight="normal" >η max</text>
<g transform="translate(537.8,434.3) rotate(16.5)"><text fill="#cc1820" transform="skewX(-10)" font-size="14.5" font-family="Liberation Sans">400V</text></g>
</svg>
</body></html>
